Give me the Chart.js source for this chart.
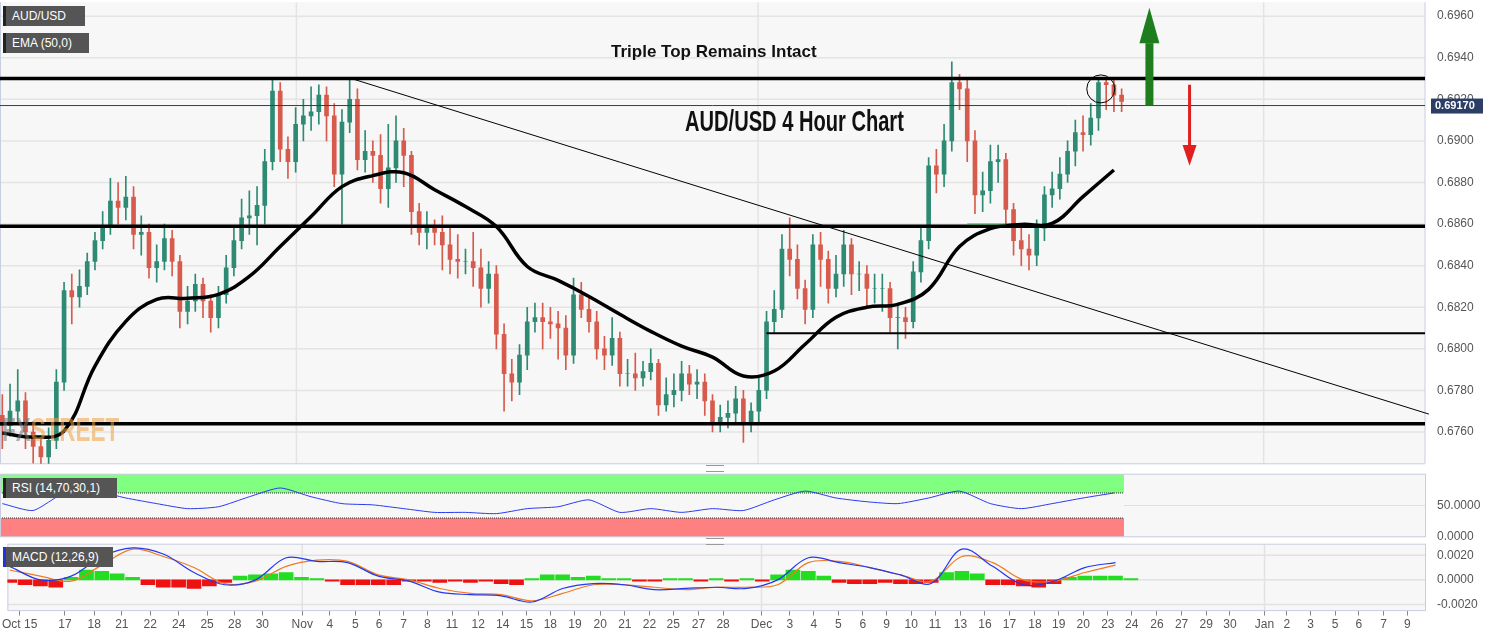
<!DOCTYPE html>
<html><head><meta charset="utf-8">
<script src="https://cdn.jsdelivr.net/npm/chart.js@4.4.0/dist/chart.umd.min.js"></script>
<style>
body{margin:0;width:1501px;height:632px;background:#fff;position:relative;overflow:hidden;font-family:"Liberation Sans",Arial,sans-serif}
canvas{position:absolute;left:0}
.tag{position:absolute;background:#555;color:#fff;font:12px "Liberation Sans Narrow","Liberation Sans",sans-serif;padding:3px 6px;border-left:3px solid #222;box-sizing:border-box}
.t1{position:absolute;font-weight:bold;font-size:17px;color:#111}
.t2{position:absolute;font:bold 30px "Liberation Sans",sans-serif;color:#111;white-space:nowrap}
.wm{position:absolute;font:bold 34px "Liberation Sans",sans-serif;opacity:.55;white-space:nowrap}
.handle{position:absolute;width:18px;height:5px;border-top:1px solid #999;border-bottom:1px solid #999}
</style></head>
<body>
<canvas id="main" width="1501" height="484" style="top:-9px"></canvas>
<canvas id="rsi" width="1501" height="85" style="top:463px"></canvas>
<canvas id="macd" width="1501" height="101" style="top:533px"></canvas>
<div class="wm" style="left:2px;top:410px;transform:scaleX(0.66);transform-origin:left"><span style="color:#777">FX</span><span style="color:#f0a040">STREET</span></div>
<div class="tag" style="left:3px;top:6px;width:82px;height:20px">AUD/USD</div>
<div class="tag" style="left:3px;top:33px;width:86px;height:20px">EMA (50,0)</div>
<div class="tag" style="left:3px;top:478px;width:114px;height:20px">RSI (14,70,30,1)</div>
<div class="tag" style="left:3px;top:547px;width:110px;height:20px;border-left-color:#2233dd">MACD (12,26,9)</div>
<div class="t1" style="left:611px;top:42px">Triple Top Remains Intact</div>
<div class="t2" style="left:685px;top:104px;transform:scaleX(0.67);transform-origin:left">AUD/USD 4 Hour Chart</div>
<div class="handle" style="left:706px;top:465px"></div>
<div class="handle" style="left:706px;top:538px"></div>
<script>
// ---- data (prices in pips: price = value / 10000) ----
const closePips = [6763,6770,6775,6760,6753,6748,6756,6784,6828,6825,6830,6842,6852,6859,6871,6868,6873,6855,6856,6839,6842,6853,6842,6818,6823,6831,6823,6815,6826,6839,6852,6863,6864,6869,6890,6924,6896,6890,6908,6912,6914,6922,6912,6884,6909,6920,6891,6895,6893,
6877,6887,6900,6893,6866,6856,6858,6856,6850,6843,6842,6842,6839,6829,6836,6807,6788,6784,6797,6813,6815,6813,6812,6810,6797,6826,6819,6813,6800,6797,6805,6788,6788,6786,6789,6793,6773,6778,6780,6788,6783,6784,6775,6765,6767,6769,6776,6765,6770,
6780,6813,6819,6848,6843,6829,6819,6850,6843,6829,6836,6850,6836,6836,6829,6829,6829,6815,6815,6813,6837,6852,6888,6884,6900,6928,6925,6900,6874,6876,6890,6891,6867,6852,6848,6845,6858,6874,6877,6884,6895,6904,6903,6911,6928,6927,6922,6919];
const firstOpenPips = 6768;
const highPips = [6778,6783,6790,6779,6765,6758,6762,6790,6832,6836,6838,6846,6856,6866,6882,6880,6883,6878,6864,6860,6850,6860,6857,6845,6830,6836,6834,6826,6830,6845,6858,6872,6876,6878,6896,6930,6928,6902,6916,6920,6926,6927,6926,6918,6915,6930,6925,6905,6900,
6903,6908,6912,6906,6895,6870,6866,6862,6864,6858,6855,6848,6856,6848,6842,6840,6812,6795,6802,6820,6822,6822,6820,6818,6816,6834,6832,6825,6818,6806,6815,6808,6795,6798,6794,6800,6795,6786,6788,6794,6792,6790,6788,6778,6773,6775,6782,6780,6774,
6786,6818,6828,6855,6863,6850,6833,6855,6856,6847,6845,6857,6853,6842,6840,6836,6836,6832,6822,6820,6842,6858,6892,6896,6908,6938,6932,6930,6905,6885,6898,6898,6894,6870,6860,6855,6862,6878,6885,6892,6900,6910,6912,6918,6930,6930,6930,6925];
const lowPips = [6752,6758,6765,6752,6745,6742,6742,6752,6780,6812,6820,6826,6838,6848,6855,6860,6862,6848,6845,6834,6832,6838,6835,6810,6812,6818,6815,6808,6810,6822,6835,6848,6855,6850,6860,6886,6890,6882,6885,6900,6905,6908,6900,6878,6860,6904,6886,6885,6880,
6870,6868,6880,6878,6855,6850,6848,6850,6838,6836,6834,6836,6830,6820,6822,6800,6770,6775,6778,6790,6808,6800,6805,6795,6790,6793,6815,6808,6795,6790,6792,6782,6782,6780,6782,6785,6768,6770,6772,6775,6778,6776,6768,6760,6760,6762,6765,6755,6760,
6765,6776,6808,6815,6835,6824,6812,6815,6830,6822,6825,6830,6826,6828,6820,6822,6818,6808,6800,6805,6810,6832,6848,6875,6878,6895,6915,6890,6865,6866,6870,6880,6860,6845,6840,6838,6840,6852,6868,6872,6880,6888,6895,6898,6905,6915,6914,6914];
// EMA(50) read every 4 bars
const emaPips = [6759.5,6757.6,6760.5,6791.7,6813.2,6823.8,6824.3,6826.2,6834.8,6849.2,6863.6,6878,6883.3,6884.7,6876.5,6868.4,6858.8,6839.6,6832.9,6825.2,6816.6,6808.4,6801.3,6796,6786.9,6789.3,6802.2,6815.2,6820,6821.4,6828.6,6849.2,6857.8,6859.8,6860.3,6873.2,6886];
// RSI read every 4 bars
const rsiValues = [53,42,70,73,62,53,45,48,64,78,64,53,51,45,39,39,37,45,48,59,39,45,39,45,42,59,73,62,56,53,62,73,53,45,53,62,70];
// MACD / signal read every 4 bars, histogram every 2 bars
const macdValues = [0.0011,0,0.0003,0.0019,0.0026,0.0021,0.0006,-0.0004,0,0.0018,0.0015,0.0014,0.0003,-0.0001,-0.0010,-0.0012,-0.0013,-0.0018,-0.0007,-0.0003,-0.0004,-0.0008,-0.0007,-0.0006,-0.0007,0,0.0018,0.0014,0.0010,0.0004,-0.0003,0.0025,0.0011,-0.0004,-0.0001,0.0010,0.0014];
const signalValues = [0.0008,0.0003,-0.0001,0.0012,0.0025,0.0019,0.0010,-0.0003,-0.0001,0.0011,0.0016,0.0015,0.0004,0,-0.0007,-0.0011,-0.0012,-0.0017,-0.0011,-0.0004,-0.0004,-0.0006,-0.0008,-0.0006,-0.0006,-0.0004,0.0014,0.0015,0.0010,0.0004,-0.0001,0.0019,0.0014,0,-0.0001,0.0006,0.0012];
const histValues = [-0.0002,-0.0004,-0.0005,-0.0006,0.0002,0.0008,0.0007,0.0005,0.0002,-0.0004,-0.0006,-0.0006,-0.0007,-0.0005,-0.0002,0.0003,0.0004,0.0005,0.0006,0.0002,0.0001,-0.0001,-0.0004,-0.0004,-0.0004,-0.0004,-0.0001,-0.0001,-0.0002,-0.0001,-0.0002,-0.0001,-0.0003,-0.0004,0.0001,0.0004,0.0004,0.0002,0.0003,0.0001,0.0001,-0.0001,-0.0001,0.0001,0.0001,-0.0001,0.0001,-0.0001,0.0001,-0.0001,0.0004,0.0008,0.0007,0.0003,-0.0002,-0.0003,-0.0003,-0.0002,-0.0003,-0.0003,-0.0002,0.0006,0.0007,0.0005,-0.0004,-0.0004,-0.0005,-0.0006,-0.0003,0.0002,0.0003,0.0003,0.0003,0.0001];
// x-axis tick labels and their bar positions
const tickLabels = ["Oct 15","17","18","21","22","24","25","28","30","Nov","4","5","6","7","8","11","12","14","15","18","19","20","21","22","25","27","28","Dec","3","4","5","6","9","10","11","13","16","17","18","19","20","23","24","26","27","29","30","Jan","2","3","5","6","7","9"];
const tickBars = [1.3,7.2,11,14.6,18.3,22,25.7,29.3,32.9,38.1,41.7,45,48.1,51.3,54.4,57.6,61,64.2,67.3,70.4,73.6,76.9,80.1,83.3,86.4,89.7,92.9,97.9,101.6,104.7,107.9,111.1,114.2,117.4,120.5,123.8,127,130.2,133.5,136.6,139.8,143,146.1,149.4,152.6,155.8,158.9,163.4,166.3,169.4,172.6,175.7,178.9,182];
const monthBars = [38.1,97.9,163.4];
// key levels (price)
const resistance = 0.6930, midLevel = 0.6859, support = 0.6764, decLevel = 0.68075, lastPrice = 0.6917;
const trendFrom = {bar:45.2, price:0.6930}, trendTo = {bar:184.8, price:0.67686};
const priceTicks = [0.6760,0.6780,0.6800,0.6820,0.6840,0.6860,0.6880,0.6900,0.6920,0.6940,0.6960];

// ---- build ----
const P = v => v/10000;
const closes = closePips.map(P), highs = highPips.map(P), lows = lowPips.map(P);
const opens = [P(firstOpenPips), ...closes.slice(0,-1)];
const GREEN = '#2f8a73', RED = '#d75b4c';
const col = closes.map((c,i)=> c>=opens[i]?GREEN:RED);
const XMIN=-0.3, XMAX=184.3;
const AX_W = 76;
const tickFont = {family:'"Liberation Sans Narrow","Liberation Sans",sans-serif',size:12};
const fitY = s=>{s.width=AX_W;};

const mainPlugin = {
  id:'mainAnn',
  beforeDatasetsDraw(ch){
    const {ctx, chartArea:a, scales:{x,y}} = ch;
    ctx.save();
    ctx.fillStyle='#f7f7f7'; ctx.fillRect(a.left,a.top,a.right-a.left,a.bottom-a.top);
    ctx.strokeStyle='#e4e4e4'; ctx.lineWidth=1.5;
    priceTicks.forEach(p=>{const yy=y.getPixelForValue(p);ctx.beginPath();ctx.moveTo(a.left,yy);ctx.lineTo(a.right,yy);ctx.stroke();});
    monthBars.forEach(b=>{const xx=x.getPixelForValue(b);ctx.beginPath();ctx.moveTo(xx,a.top);ctx.lineTo(xx,a.bottom);ctx.stroke();});
    ctx.strokeStyle='#c8cde0';ctx.lineWidth=1;ctx.beginPath();ctx.moveTo(a.left+0.5,a.top);ctx.lineTo(a.left+0.5,a.bottom);ctx.lineTo(a.right,a.bottom);ctx.lineTo(a.right,a.top);ctx.stroke();
    ctx.restore();
  },
  afterDatasetsDraw(ch){
    const {ctx, chartArea:a, scales:{x,y}} = ch;
    ctx.save();
    const hl=(p,w,x0,c)=>{const yy=y.getPixelForValue(p);ctx.strokeStyle=c||'#000';ctx.lineWidth=w;ctx.beginPath();ctx.moveTo(x0??a.left,yy);ctx.lineTo(a.right,yy);ctx.stroke();};
    hl(resistance,3.5); hl(midLevel,3.5); hl(support,3.5);
    hl(decLevel,2,x.getPixelForValue(99));
    hl(lastPrice,1,a.left,'#2c3e66');
    ctx.strokeStyle='#000';ctx.lineWidth=1;ctx.beginPath();
    ctx.moveTo(x.getPixelForValue(trendFrom.bar),y.getPixelForValue(trendFrom.price));
    ctx.lineTo(x.getPixelForValue(trendTo.bar),y.getPixelForValue(trendTo.price));ctx.stroke();
    ctx.strokeStyle='#2a9a3a';ctx.lineWidth=1;ctx.beginPath();ctx.moveTo(x.getPixelForValue(125),y.getPixelForValue(0.6860));ctx.lineTo(x.getPixelForValue(130),y.getPixelForValue(0.6860));ctx.stroke();
    ctx.strokeStyle='#000';ctx.beginPath();ctx.arc(x.getPixelForValue(142.3),y.getPixelForValue(0.6925),14,0,Math.PI*2);ctx.stroke();
    const gx=x.getPixelForValue(148.6), rx=x.getPixelForValue(153.8);
    ctx.fillStyle='#1e7e1e';ctx.fillRect(gx-4,y.getPixelForValue(0.6947),8,y.getPixelForValue(0.6917)-y.getPixelForValue(0.6947));
    ctx.beginPath();ctx.moveTo(gx-10,y.getPixelForValue(0.6947));ctx.lineTo(gx+10,y.getPixelForValue(0.6947));ctx.lineTo(gx,y.getPixelForValue(0.6964));ctx.fill();
    ctx.fillStyle='#e02020';ctx.fillRect(rx-1.5,y.getPixelForValue(0.6927),3,y.getPixelForValue(0.6898)-y.getPixelForValue(0.6927));
    ctx.beginPath();ctx.moveTo(rx-7,y.getPixelForValue(0.6898));ctx.lineTo(rx+7,y.getPixelForValue(0.6898));ctx.lineTo(rx,y.getPixelForValue(0.6888));ctx.fill();
    const ly=y.getPixelForValue(lastPrice);
    ctx.fillStyle='#2c3e66';ctx.fillRect(a.right+6,ly-7,52,15);
    ctx.fillStyle='#fff';ctx.font='bold 11px "Liberation Sans",sans-serif';ctx.textBaseline='middle';ctx.fillText(lastPrice.toFixed(5),a.right+10,ly+0.5);
    ctx.restore();
  }
};

new Chart(document.getElementById('main'),{
  type:'bar',
  data:{datasets:[
    {type:'line',data:emaPips.map((v,i)=>({x:i*4,y:P(v)})),borderColor:'#000',borderWidth:3.5,pointRadius:0,tension:0.4,order:0},
    {data:closes.map((c,i)=>({x:i,y:[opens[i],c]})),backgroundColor:col,barThickness:4,grouped:false,order:1},
    {data:closes.map((c,i)=>({x:i,y:[lows[i],highs[i]]})),backgroundColor:col,barThickness:1,grouped:false,order:2}
  ]},
  options:{responsive:false,animation:false,layout:{padding:0},
    plugins:{legend:{display:false},tooltip:{enabled:false}},
    scales:{
      x:{type:'linear',offset:false,min:XMIN,max:XMAX,display:false},
      y:{position:'right',min:0.67447,max:0.69667,afterFit:fitY,
        afterBuildTicks:s=>{s.ticks=priceTicks.map(v=>({value:v}));},
        ticks:{callback:v=>v.toFixed(4),color:'#555',font:tickFont,padding:4},
        grid:{display:false},border:{display:false}}
    }},
  plugins:[mainPlugin]
});

const rsiPlugin={id:'rsiBands',beforeDatasetsDraw(ch){
  const {ctx,chartArea:a,scales:{x,y}}=ch;ctx.save();
  ctx.fillStyle='#f7f7f7';ctx.fillRect(a.left,a.top,a.right-a.left,a.bottom-a.top);
  const xe=x.getPixelForValue(145.3);
  ctx.fillStyle='#80ff80';ctx.fillRect(a.left,y.getPixelForValue(100),xe-a.left,y.getPixelForValue(70)-y.getPixelForValue(100));
  ctx.fillStyle='#ff8080';ctx.fillRect(a.left,y.getPixelForValue(30),xe-a.left,y.getPixelForValue(0)-y.getPixelForValue(30));
  ctx.strokeStyle='#333';ctx.setLineDash([1,1]);ctx.lineWidth=1;
  [70,30].forEach(v=>{const yy=y.getPixelForValue(v);ctx.beginPath();ctx.moveTo(a.left,yy);ctx.lineTo(xe,yy);ctx.stroke();});
  ctx.setLineDash([]);ctx.strokeStyle='#e0e0e0';
  const y5=y.getPixelForValue(50);ctx.beginPath();ctx.moveTo(xe,y5);ctx.lineTo(a.right,y5);ctx.stroke();
  ctx.strokeStyle='#c8cde0';ctx.strokeRect(a.left+0.5,a.top,a.right-a.left,a.bottom-a.top);
  ctx.restore();}};
new Chart(document.getElementById('rsi'),{
  type:'line',
  data:{datasets:[{data:rsiValues.map((v,i)=>({x:i*4,y:v})),borderColor:'#2a3cf0',borderWidth:1,pointRadius:0,tension:0.2}]},
  options:{responsive:false,animation:false,layout:{padding:{top:1,bottom:0}},
    plugins:{legend:{display:false},tooltip:{enabled:false}},
    scales:{x:{type:'linear',offset:false,min:XMIN,max:XMAX,display:false},
      y:{position:'right',min:0,max:100,afterFit:fitY,
        afterBuildTicks:s=>{s.ticks=[{value:0},{value:50}];},
        ticks:{callback:v=>v.toFixed(4),color:'#555',font:tickFont,padding:4},
        grid:{display:false},border:{display:false}}}},
  plugins:[rsiPlugin]
});

const macdPlugin={id:'macdBg',beforeDatasetsDraw(ch){
  const {ctx,chartArea:a,scales:{x,y}}=ch;ctx.save();
  ctx.fillStyle='#f7f7f7';ctx.fillRect(a.left,a.top,a.right-a.left,a.bottom-a.top);
  ctx.strokeStyle='#e2e2e2';ctx.lineWidth=1.5;
  [-0.002,0,0.002].forEach(v=>{const yy=y.getPixelForValue(v);ctx.beginPath();ctx.moveTo(a.left,yy);ctx.lineTo(a.right,yy);ctx.stroke();});
  monthBars.forEach(b=>{const xx=x.getPixelForValue(b);ctx.beginPath();ctx.moveTo(xx,a.top);ctx.lineTo(xx,a.bottom);ctx.stroke();});
  ctx.strokeStyle='#c8cde0';ctx.lineWidth=1;ctx.strokeRect(a.left+0.5,a.top,a.right-a.left,a.bottom-a.top);
  ctx.restore();}};
new Chart(document.getElementById('macd'),{
  type:'bar',
  data:{datasets:[
    {type:'line',data:macdValues.map((v,i)=>({x:i*4,y:v})),borderColor:'#2438f0',borderWidth:1.2,pointRadius:0,tension:0.35,order:0},
    {type:'line',data:signalValues.map((v,i)=>({x:i*4,y:v})),borderColor:'#f07a20',borderWidth:1.2,pointRadius:0,tension:0.35,order:1},
    {data:histValues.map((v,i)=>({x:i*2,y:v})),backgroundColor:histValues.map(v=>v>=0?'#22dd22':'#ee1111'),barThickness:14,order:2}
  ]},
  options:{responsive:false,animation:false,layout:{padding:0},
    plugins:{legend:{display:false},tooltip:{enabled:false}},
    scales:{
      x:{type:'linear',offset:false,min:XMIN,max:XMAX,
        afterBuildTicks:s=>{s.ticks=tickBars.map(v=>({value:v}));},
        ticks:{autoSkip:false,maxRotation:0,callback:(v,i)=>tickLabels[i],color:'#555',font:tickFont,padding:2},
        grid:{drawOnChartArea:false,drawTicks:true,tickLength:5,color:'#888',offset:false},border:{display:false}},
      y:{position:'right',min:-0.0025,max:0.0029,afterFit:fitY,
        afterBuildTicks:s=>{s.ticks=[{value:-0.002},{value:0},{value:0.002}];},
        ticks:{callback:v=>v.toFixed(4),color:'#555',font:tickFont,padding:4},
        grid:{display:false},border:{display:false}}
    }},
  plugins:[macdPlugin]
});
</script>
</body></html>
